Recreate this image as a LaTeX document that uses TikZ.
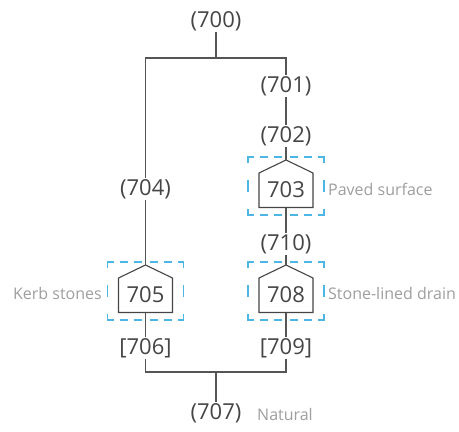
\documentclass[tikz,border=0pt]{standalone}
\usepackage{fontspec}
\setmainfont{Open Sans}
\definecolor{ink}{HTML}{454545}
\definecolor{wire}{HTML}{555555}
\definecolor{note}{HTML}{9E9E9E}
\definecolor{frameblue}{HTML}{4CB6E4}
\tikzset{
  num/.style={text=ink, inner sep=1pt, font=\fontsize{22}{26}\selectfont},
  tag/.style={text=note, inner sep=0pt, font=\fontsize{16}{19}\selectfont},
  wireline/.style={draw=wire, line width=1.1pt},
  house/.style={draw=ink, line width=1.1pt, line join=miter},
  frame/.style={draw=frameblue, line width=1.1pt},
}
% house-shaped context box with dashed frame: name, x, y, number
\newcommand\housebox[4]{%
  \begin{scope}[shift={(#2,#3)}]
    \coordinate (#1-top) at (0,-26);
    \coordinate (#1-bot) at (0,21.5);
    \draw[house] (-27,21.5) -- (-27,-13) -- (#1-top) -- (27,-13) -- (27,21.5) -- cycle;
    \node[num] (#1) at (0,4) {#4};
    \draw[frame] (-38,-23) -- (-38,-29) -- (-32,-29)
                 (-26,-29) -- (-18,-29) (-12,-29) -- (-4,-29)
                 (4,-29) -- (12,-29) (18,-29) -- (26,-29)
                 (32,-29) -- (38,-29) -- (38,-23)
                 (-38,23) -- (-38,29) -- (-32,29)
                 (-26,29) -- (-18,29) (-12,29) -- (-4,29)
                 (4,29) -- (12,29) (18,29) -- (26,29)
                 (32,29) -- (38,29) -- (38,23)
                 (-38,-6) -- (-38,6) (38,-6) -- (38,6);
  \end{scope}}
\begin{document}
\begin{tikzpicture}[x=1pt, y=-1pt]
  \useasboundingbox (0,0) rectangle (459,432);

  % context numbers
  \node[num] (n700) at (216,21) {(700)};
  \node[num] (n701) at (286,86) {(701)};
  \node[num] (n702) at (286,136) {(702)};
  \node[num] (n704) at (145.5,189) {(704)};
  \node[num] (n710) at (286,244) {(710)};
  \node[num] (n706) at (145.5,348) {[706]};
  \node[num] (n709) at (286,348) {[709]};
  \node[num] (n707) at (216,413) {(707)};

  % house boxes
  \housebox{h703}{286}{186}{703}
  \housebox{h705}{145.5}{291}{705}
  \housebox{h708}{286}{291}{708}

  % labels
  \node[tag, anchor=west] (l703) at (328,189) {Paved surface};
  \node[tag, anchor=west] (l708) at (328,293) {Stone-lined drain};
  \node[tag, anchor=east] (l705) at (102,293) {Kerb stones};
  \node[tag, anchor=west] (l707) at (257,414) {Natural};

  % junction points
  \coordinate (topbar) at (216,58);
  \coordinate (topL) at (145.5,58);
  \coordinate (topR) at (286,58);
  \coordinate (botbar) at (216,372);
  \coordinate (botL) at (145.5,372);
  \coordinate (botR) at (286,372);

  % connectors
  \draw[wireline] (n700.south) -- (topbar);
  \draw[wireline] (n704.north) -- (topL) -- (topR) -- (n701.north);
  \draw[wireline] (n701.south) -- (n702.north);
  \draw[wireline] (n702.south) -- (h703-top);
  \draw[wireline] (h703-bot) -- (n710.north);
  \draw[wireline] (n710.south) -- (h708-top);
  \draw[wireline] (h708-bot) -- (n709.north);
  \draw[wireline] (n704.south) -- (h705-top);
  \draw[wireline] (h705-bot) -- (n706.north);
  \draw[wireline] (n706.south) -- (botL) -- (botR) -- (n709.south);
  \draw[wireline] (botbar) -- (n707.north);
\end{tikzpicture}
\end{document}
